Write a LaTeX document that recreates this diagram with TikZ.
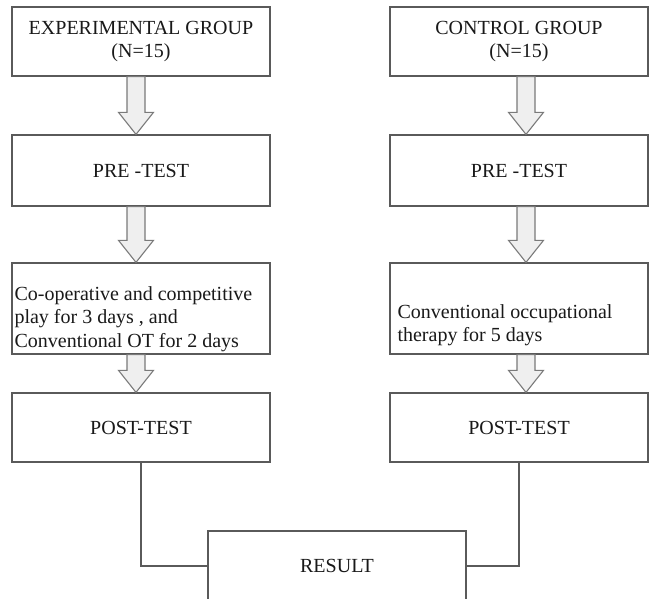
\documentclass[tikz,border=0pt]{standalone}
\usepackage{fontspec}
\setmainfont{Liberation Serif}
\usetikzlibrary{calc}

\definecolor{boxgray}{HTML}{5A5A5A}
\definecolor{arrgray}{HTML}{7A7A7A}
\definecolor{arrfill}{HTML}{EFEFEF}

\tikzset{
  box/.style={draw=boxgray, line width=1.3pt, minimum width=258pt, minimum height=69pt,
              inner sep=0pt, align=center, text=black!90,
              font=\fontsize{20}{23.5}\selectfont},
  boxtext/.style={inner sep=0pt, align=left, anchor=north west, text=black!90,
              font=\fontsize{20}{23.5}\selectfont},
  fatarr/.style={draw=arrgray, fill=arrfill, line width=1.1pt, line join=miter},
  conn/.style={draw=boxgray, line width=1.3pt}
}

% hollow block arrow at x=#1 from node #2 down to node #3
\newcommand{\fatarrow}[3]{%
  \path[fatarr] let \p1=(#2.south), \p2=(#3.north) in
    (#1pt-9pt,\y1) -- (#1pt+9pt,\y1) -- (#1pt+9pt,\y2+22pt) -- (#1pt+17.5pt,\y2+22pt)
    -- (#1pt,\y2) -- (#1pt-17.5pt,\y2+22pt) -- (#1pt-9pt,\y2+22pt) -- cycle;}

\begin{document}
\begin{tikzpicture}[x=1pt,y=-1pt]

\path[use as bounding box, fill=white] (0,0) rectangle (650,599);

% left column
\node[box] (exp) at (141,41.5) {EXPERIMENTAL GROUP\\(N=15)};
\node[box, minimum height=71pt] (pre1) at (141,170.5) {PRE -TEST};
\node[box, minimum height=91pt] (play) at (141,308.5) {};
\node[box] (post1) at (141,427.5) {POST-TEST};

% right column
\node[box] (ctrl) at (519,41.5) {CONTROL GROUP\\(N=15)};
\node[box, minimum height=71pt] (pre2) at (519,170.5) {PRE -TEST};
\node[box, minimum height=91pt] (conv) at (519,308.5) {};
\node[box] (post2) at (519,427.5) {POST-TEST};

% texts of the treatment boxes
\node[boxtext] (playtxt) at ([xshift=3pt,yshift=-24pt]play.north west)
  {Co-operative and competitive\\play for 3 days , and\\Conventional OT for 2 days};
\node[boxtext] (convtxt) at ([xshift=8pt,yshift=-42pt]conv.north west)
  {Conventional occupational\\therapy for 5 days};

% result
\node[box, minimum height=70pt] (result) at (337,566) {RESULT};

% arrows
\foreach \a/\b in {exp/pre1, pre1/play, play/post1}
  \fatarrow{136}{\a}{\b};
\foreach \a/\b in {ctrl/pre2, pre2/conv, conv/post2}
  \fatarrow{526}{\a}{\b};

% lines to result
\draw[conn] (post1.south) |- (result.west);
\draw[conn] (post2.south) |- (result.east);

\end{tikzpicture}
\end{document}
